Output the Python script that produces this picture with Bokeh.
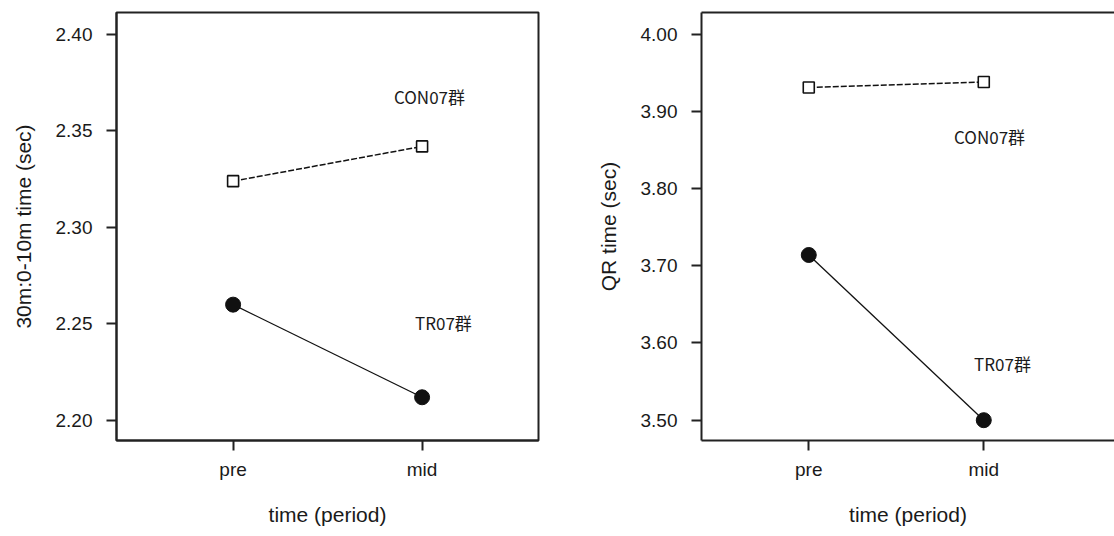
from bokeh.plotting import figure
from bokeh.layouts import row
from bokeh.models import FixedTicker, Label, LinearAxis
from bokeh.embed import file_html
from bokeh.resources import INLINE

periods = ["pre", "mid"]
con_sprint = [2.324, 2.342]
tr_sprint = [2.260, 2.212]
con_qr = [3.931, 3.938]
tr_qr = [3.714, 3.500]
sprint_ticks = [2.20, 2.25, 2.30, 2.35, 2.40]
qr_ticks = [3.50, 3.60, 3.70, 3.80, 3.90, 4.00]
group_con = "CON07群"
group_tr = "TR07群"

xs = list(range(1, len(periods) + 1))

TICK_FONT = "Liberation Sans"
LABEL_FONT = "Noto Sans CJK JP"


def make_fig(width, left_border, right_border, x_range, y_range, ticks, ylabel, full_box):
    p = figure(width=width, height=536, x_range=x_range, y_range=y_range,
               output_backend="svg", toolbar_location=None,
               min_border_left=left_border, min_border_right=right_border,
               min_border_top=12, min_border_bottom=96)
    p.grid.visible = False
    p.background_fill_color = "white"
    p.border_fill_color = "white"
    for ax in (p.xaxis[0], p.yaxis[0]):
        ax.axis_line_color = "#222222"
        ax.axis_line_width = 2
        ax.major_tick_line_color = "#222222"
        ax.major_tick_line_width = 2
        ax.major_tick_in = 0
        ax.major_tick_out = 10
        ax.minor_tick_out = 0
        ax.minor_tick_in = 0
        ax.major_label_text_font = TICK_FONT
        ax.major_label_text_font_size = "19px"
        ax.major_label_text_color = "#1a1a1a"
        ax.axis_label_text_font = TICK_FONT
        ax.axis_label_text_font_size = "21px"
        ax.axis_label_text_font_style = "normal"
        ax.axis_label_text_color = "#1a1a1a"
    xa = p.xaxis[0]
    ya = p.yaxis[0]
    xa.ticker = FixedTicker(ticks=xs)
    xa.major_label_overrides = {x: lab for x, lab in zip(xs, periods)}
    xa.major_label_standoff = 8
    xa.axis_label = "time (period)"
    xa.axis_label_standoff = 20
    ya.ticker = FixedTicker(ticks=ticks)
    ya.major_label_overrides = {t: f"{t:.2f}" for t in ticks}
    ya.major_label_standoff = 14
    ya.axis_label = ylabel
    ya.axis_label_standoff = 18
    if full_box:
        p.outline_line_color = "#222222"
        p.outline_line_width = 2
    else:
        p.outline_line_color = None
        top = LinearAxis(ticker=FixedTicker(ticks=[]), major_tick_out=0, major_tick_in=0,
                         minor_tick_out=0, minor_tick_in=0,
                         major_label_text_font_size="0px", major_label_standoff=0,
                         axis_line_width=2, axis_line_color="#222222")
        p.add_layout(top, "above")
    return p


def draw(p, con, tr):
    p.line(xs, con, line_color="#111111", line_width=1.5, line_dash="6 2")
    p.scatter(xs, con, marker="square", size=11, fill_color="white",
              line_color="#111111", line_width=1.6)
    p.line(xs, tr, line_color="#111111", line_width=1.3)
    p.scatter(xs, tr, marker="circle", size=15, fill_color="#111111", line_color="#111111")


def add_label(p, text, x, y):
    p.add_layout(Label(x=x, y=y, text=text, text_align="center", text_baseline="middle",
                       text_font=LABEL_FONT, text_font_size="17px", text_color="#1a1a1a"))


p1 = make_fig(560, 116, 22, (0.383, 2.616), (2.1896, 2.4114), sprint_ticks,
              "30m:0-10m time (sec)", True)
draw(p1, con_sprint, tr_sprint)
add_label(p1, group_con, 2.039, 2.368)
add_label(p1, group_tr, 2.113, 2.2508)

p2 = make_fig(554, 141, 0, (0.387, 2.747), (3.4737, 4.0281), qr_ticks,
              "QR time (sec)", False)
draw(p2, con_qr, tr_qr)
add_label(p2, group_con, 2.033, 3.8675)
add_label(p2, group_tr, 2.107, 3.5734)

layout = row(p1, p2, spacing=0)
open("out.html", "w").write(file_html(layout, INLINE))
